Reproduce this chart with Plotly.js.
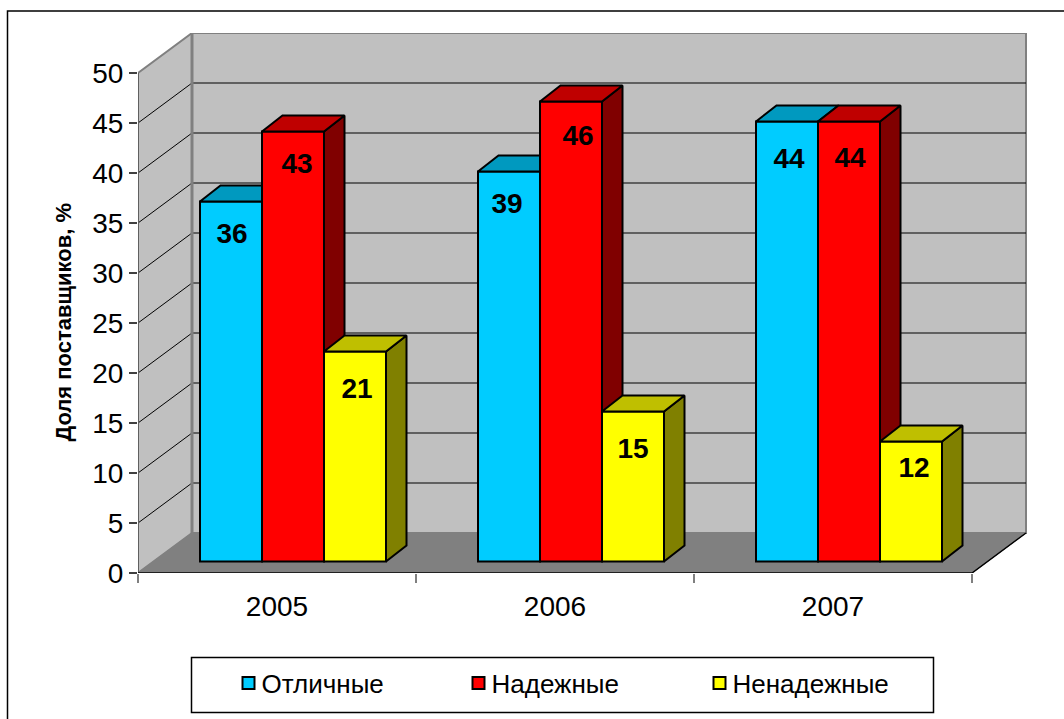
<!DOCTYPE html>
<html>
<head>
<meta charset="utf-8">
<script src="https://cdn.plot.ly/plotly-3.0.1.min.js"></script>
<style>html,body{margin:0;padding:0;background:#fff;overflow:hidden}#c{width:1064px;height:719px}</style>
</head>
<body>
<div id="c"></div>
<script>
// ---- data ----
const years = ['2005', '2006', '2007'];
const excellent = [36, 39, 44];
const reliable = [43, 46, 44];
const unreliable = [21, 15, 12];
const seriesNames = ['Отличные', 'Надежные', 'Ненадежные'];
const yTicks = [0, 5, 10, 15, 20, 25, 30, 35, 40, 45, 50];
const yAxisTitle = 'Доля поставщиков, %';

// ---- geometry of the pseudo-3D scene, in axis units ----
const W = 1064, H = 719;
const plotL = 138, plotR = 1030, plotB = 573, plotT = 33;
const pxPerCat = 278, pxPerVal = 10;
const xMax = (plotR - plotL) / pxPerCat, yMax = (plotB - plotT) / pxPerVal;
const xu = p => p / pxPerCat, yu = p => p / pxPerVal;
const wallDX = xu(54), wallDY = yu(40);
const barBase = yu(11.5), barShift = xu(16), barW = xu(62);
const barDX = xu(20.5), barDY = yu(16);
const xEnd = years.length;
const styles = [
  {front: '#00ccff', top: '#0099bf', side: '#006680'},
  {front: '#ff0000', top: '#bf0000', side: '#800000'},
  {front: '#ffff00', top: '#bfbf00', side: '#808000'}
];
const labelNudge = [ // px: [dx, dy] relative to the default label spot
  [[1, 2], [-2, 2], [2, 7]],
  [[4, 2], [7, 4], [1, 6]],
  [[2, 7.5], [0, 7], [3, -4]]
];
const legendWidths = [185, 196, 210];

const allValues = [excellent, reliable, unreliable];
const traces = [];
const poly = (x, y, fill, line, w, extra) => Object.assign({
  type: 'scatter', mode: 'lines', x, y, fill: fill ? 'toself' : 'none', fillcolor: fill || undefined,
  line: {color: line, width: w}, showlegend: false, hoverinfo: 'skip', cliponaxis: false
}, extra || {});

// scene: walls, floor, grid (all on the base axes)
const backR = xEnd + wallDX;
traces.push(poly([wallDX, backR, backR, wallDX, wallDX], [wallDY, wallDY, 50 + wallDY, 50 + wallDY, wallDY], '#c0c0c0', '#808080', 2));
traces.push(poly([0, wallDX, wallDX, 0, 0], [0, wallDY, 50 + wallDY, 50, 0], '#c0c0c0', '#808080', 2));
traces.push(poly([0, wallDX, backR, xEnd, 0], [0, wallDY, wallDY, 0, 0], '#808080', '#808080', 1));
yTicks.filter(v => v > 0 && v < 50).forEach(v => {
  traces.push(poly([0, wallDX, backR], [v, v + wallDY, v + wallDY], null, '#000000', 1));
});
traces.push(poly([wallDX, wallDX], [wallDY, 50 + wallDY], null, '#808080', 3));
traces.push(poly([0, 0], [0, 50], null, '#606060', 2));
traces.push(poly([0, xEnd, backR], [0, 0, wallDY], null, '#000000', 1.5));

// bars: one overlaying axis pair per series, so nearer bars hide farther ones
allValues.forEach((vals, s) => {
  const ax = {x: 'x' + (s + 2), y: 'y' + (s + 2)};
  const xs = years.map((_, i) => i + 0.5 + barShift + (s - 1) * barW);
  traces.push({
    type: 'bar', name: seriesNames[s], x: xs, y: vals, base: barBase, width: barW,
    marker: {color: styles[s].front, line: {color: '#000', width: 2}},
    xaxis: ax.x, yaxis: ax.y, hoverinfo: 'skip', legendwidth: legendWidths[s], cliponaxis: false
  });
  const sx = [], sy = [], tx = [], ty = [];
  vals.forEach((v, i) => {
    const r = xs[i] + barW / 2, l = xs[i] - barW / 2, t = barBase + v;
    sx.push(r, r + barDX, r + barDX, r, r, null);
    sy.push(barBase, barBase + barDY, t + barDY, t, barBase, null);
    tx.push(l, l + barDX, r + barDX, r, l, null);
    ty.push(t, t + barDY, t + barDY, t, t, null);
  });
  traces.push(poly(sx, sy, styles[s].side, '#000', 2, {xaxis: ax.x, yaxis: ax.y}));
  traces.push(poly(tx, ty, styles[s].top, '#000', 2, {xaxis: ax.x, yaxis: ax.y}));
});

// value labels on the topmost layer
allValues.forEach((vals, s) => {
  traces.push({
    type: 'scatter', mode: 'text',
    x: vals.map((_, i) => i + 0.5 + barShift + (s - 1) * barW + xu(labelNudge[s][i][0])),
    y: vals.map((v, i) => barBase + v - yu(32 + labelNudge[s][i][1])),
    text: vals.map(String), textposition: 'middle center',
    textfont: {family: 'Liberation Sans', size: 28, color: '#000', weight: 700},
    xaxis: 'x4', yaxis: 'y4', showlegend: false, hoverinfo: 'skip', cliponaxis: false
  });
});

const px = p => (p - plotL) / (plotR - plotL);
const py = p => (plotB - p) / (plotB - plotT);
const hidden = (over) => ({overlaying: over, range: over === 'x' ? [0, xMax] : [0, yMax], visible: false, fixedrange: true});

const layout = {
  width: W, height: H, paper_bgcolor: '#fff', plot_bgcolor: 'rgba(0,0,0,0)', showlegend: true,
  margin: {l: plotL, r: W - plotR, t: plotT, b: H - plotB, pad: 0},
  barmode: 'overlay',
  font: {family: 'Liberation Sans', color: '#000'},
  xaxis: {
    range: [0, xMax], tickmode: 'array', tickvals: years.map((_, i) => i + 0.5), ticktext: years,
    ticks: '', showgrid: false, zeroline: false, showline: false, fixedrange: true,
    tickfont: {size: 28, color: '#000'}, ticklabelstandoff: 14,
    minor: {tickmode: 'array', tickvals: years.map((_, i) => i).concat(xEnd), ticks: 'outside', ticklen: 9, tickwidth: 1.5, tickcolor: '#808080', showgrid: false}
  },
  yaxis: {
    range: [0, yMax], tickmode: 'array', tickvals: yTicks, ticks: 'outside', ticklen: 8, tickwidth: 1.5, tickcolor: '#404040',
    showgrid: false, zeroline: false, showline: false, fixedrange: true, ticklabelstandoff: 0,
    tickfont: {size: 28, color: '#000'}
  },
  xaxis2: hidden('x'), xaxis3: hidden('x'), xaxis4: hidden('x'),
  yaxis2: hidden('y'), yaxis3: hidden('y'), yaxis4: hidden('y'),
  legend: {
    orientation: 'h', x: px(221.5), xanchor: 'left', y: py(683), yanchor: 'middle',
    font: {size: 26, color: '#000'}, bgcolor: 'rgba(0,0,0,0)', borderwidth: 0, traceorder: 'normal',
    itemclick: false, itemdoubleclick: false
  },
  annotations: [
    {text: yAxisTitle, xref: 'paper', yref: 'paper', x: px(62.5), y: py(322), xanchor: 'center', yanchor: 'middle',
      textangle: -90, showarrow: false, font: {size: 22, weight: 700, color: '#000'}}
  ],
  shapes: [
    {type: 'rect', xref: 'paper', yref: 'paper', x0: px(191.5), x1: px(933.5), y0: py(712.5), y1: py(657.5), line: {color: '#000', width: 1.5}, layer: 'below'},
    {type: 'path', xref: 'paper', yref: 'paper', layer: 'below', line: {color: '#000', width: 1.5},
      path: 'M' + px(7.5) + ',' + py(725) + 'L' + px(7.5) + ',' + py(11) + 'L' + px(1070) + ',' + py(11)}
  ]
};
Plotly.newPlot('c', traces, layout, {displayModeBar: false, staticPlot: true}).then(() => {
  // the reference keeps its legend swatches close to their text
  document.querySelectorAll('.legend .legendpoints').forEach(g => g.setAttribute('transform', 'translate(7,0)'));
});
</script>
</body>
</html>
